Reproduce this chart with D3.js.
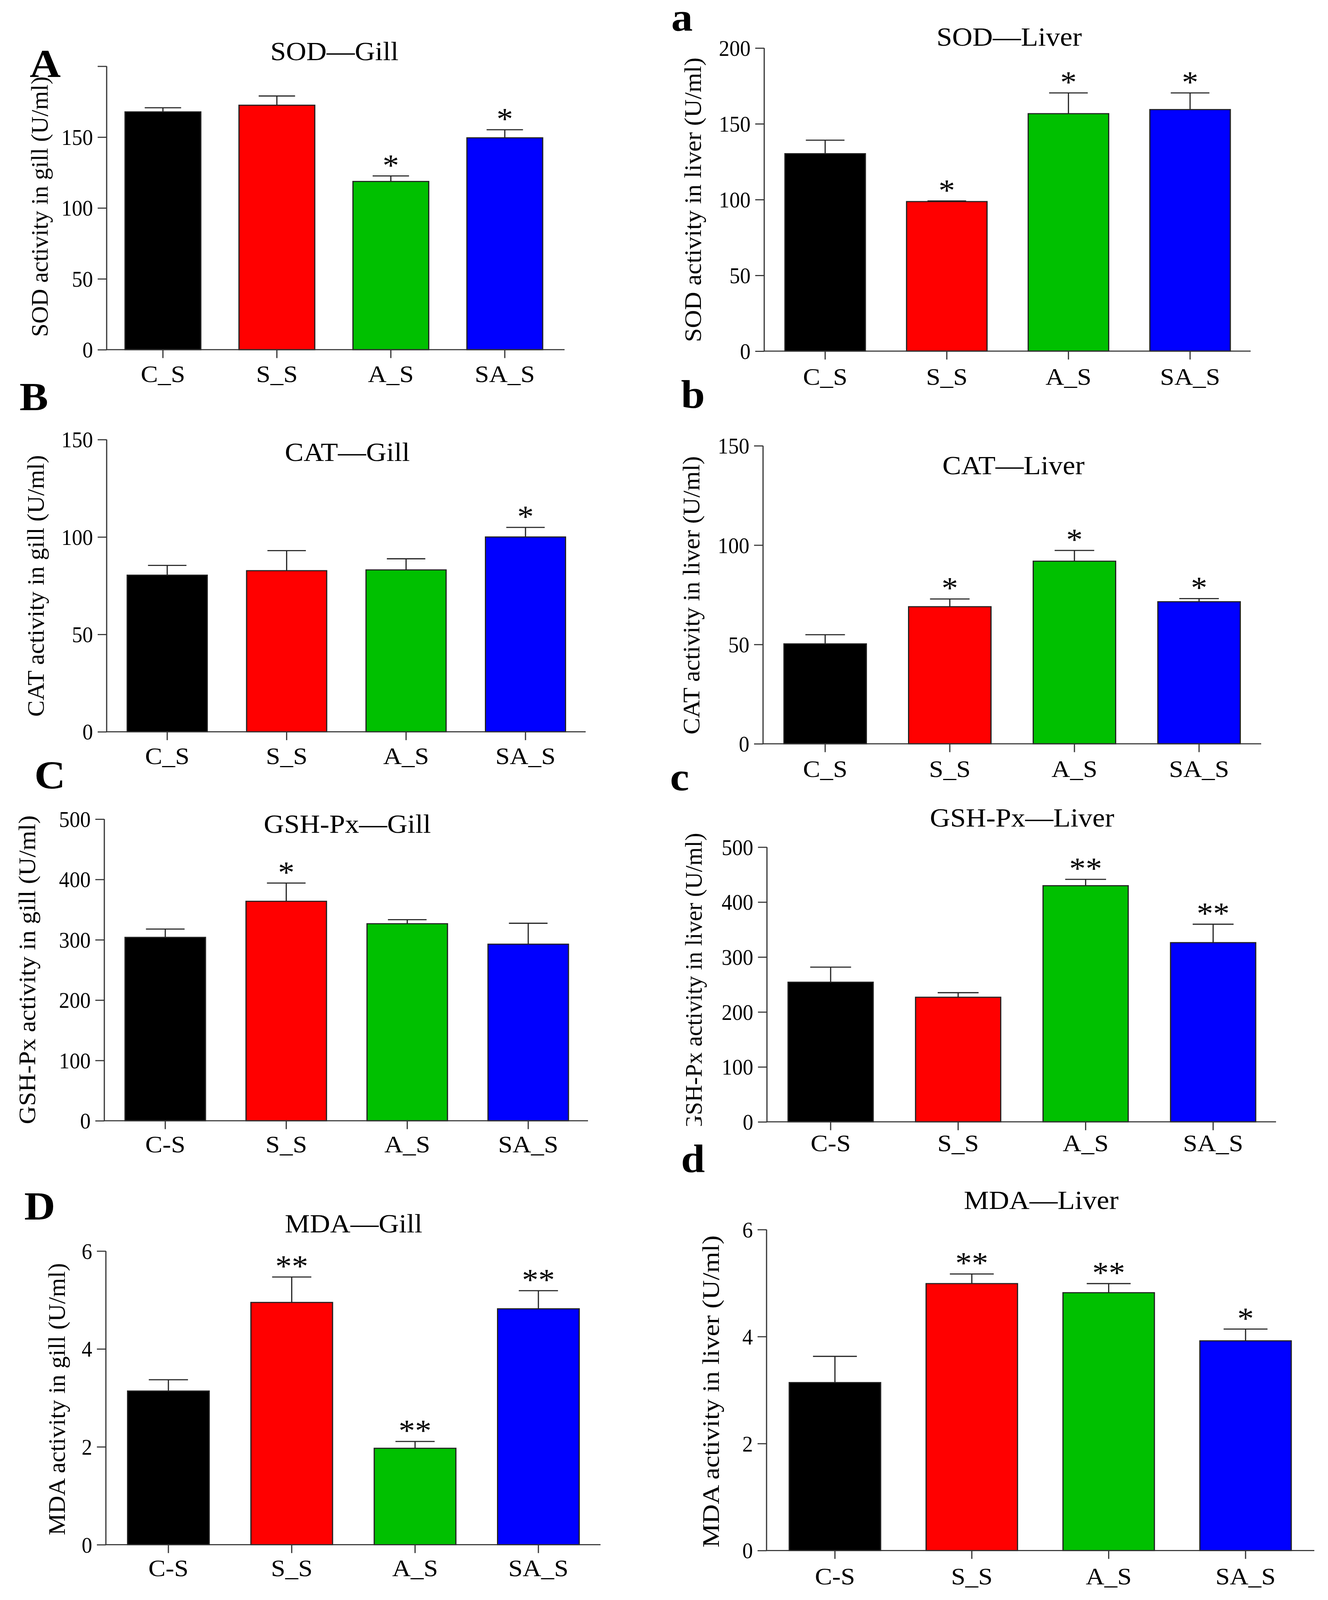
<html>
<head>
<style>
html, body { margin: 0; padding: 0; background: #fff; overflow: hidden; }
#svg { display: block; width: 100vw; height: 100vh; }
text { font-family: "Liberation Serif", "Times New Roman", serif; fill: #000; }
</style>
</head>
<body>
<svg id="svg" viewBox="0 0 3399 4397" preserveAspectRatio="none"></svg>
<script src="https://d3js.org/d3.v7.min.js"></script>
<script>

// groups and colours
var groups = ["C_S", "S_S", "A_S", "SA_S"];
var barColors = ["#000000", "#ff0000", "#00c000", "#0000ff"];
var namesU = ["C_S", "S_S", "A_S", "SA_S"];
var namesD = ["C-S", "S_S", "A_S", "SA_S"];

// SOD
var sodGill = [167.8, 172.5, 118.7, 149.5];
var sodGillErr = [2.9, 6.5, 3.9, 5.7];
var sodGillSig = ["", "", "*", "*"];
var sodLiver = [130.3, 98.7, 156.7, 159.4];
var sodLiverErr = [8.9, 0.4, 13.7, 11.0];
var sodLiverSig = ["", "*", "*", "*"];
var sodTicks = [0, 50, 100, 150, 200];
var sodGillTickLabels = ["0", "50", "100", "150", ""];
var sodLiverTickLabels = ["0", "50", "100", "150", "200"];

// CAT
var catGill = [80.4, 82.7, 83.1, 100.0];
var catGillErr = [5.0, 10.3, 5.7, 4.9];
var catGillSig = ["", "", "", "*"];
var catLiver = [50.3, 69.0, 91.9, 71.5];
var catLiverErr = [4.6, 3.9, 5.4, 1.6];
var catLiverSig = ["", "*", "*", "*"];
var catTicks = [0, 50, 100, 150];
var catTickLabels = ["0", "50", "100", "150"];

// GSH-Px
var gshGill = [304.0, 363.8, 326.6, 292.7];
var gshGillErr = [13.7, 30.2, 6.7, 34.7];
var gshGillSig = ["", "*", "", ""];
var gshLiver = [254.2, 226.8, 429.8, 326.2];
var gshLiverErr = [27.4, 8.3, 11.6, 33.5];
var gshLiverSig = ["", "", "**", "**"];
var gshTicks = [0, 100, 200, 300, 400, 500];
var gshTickLabels = ["0", "100", "200", "300", "400", "500"];

// MDA
var mdaGill = [3.14, 4.95, 1.97, 4.82];
var mdaGillErr = [0.23, 0.52, 0.14, 0.37];
var mdaGillSig = ["", "**", "**", "**"];
var mdaLiver = [3.14, 4.99, 4.82, 3.92];
var mdaLiverErr = [0.49, 0.18, 0.17, 0.22];
var mdaLiverSig = ["", "**", "**", "*"];
var mdaTicks = [0, 2, 4, 6];
var mdaTickLabels = ["0", "2", "4", "6"];

// panel table: data refs + layout (ax/xe axis ends, y0/yt zero & top, c0/c3 first/last centre, bw bar width,
// tx/ty title, lx/ly panel letter, yx/yy/yl y label centre & length, xb x label baseline, clip = y label cut)
var panels = [
  {tag:"A", title:"SOD\u2014Gill", ylab:"SOD activity in gill (U/ml)", m:sodGill, e:sodGillErr, s:sodGillSig, t:sodTicks, tl:sodGillTickLabels, names:namesU,
   ax:273, xe:1445, y0:961, yt:182, c0:417, c3:1292, bw:194, tx:856, ty:165, lx:76, ly:212, yx:100, yy:568, yl:716, xb:1050},
  {tag:"a", title:"SOD\u2014Liver", ylab:"SOD activity in liver (U/ml)", m:sodLiver, e:sodLiverErr, s:sodLiverSig, t:sodTicks, tl:sodLiverTickLabels, names:namesU,
   ax:1956, xe:3201, y0:965, yt:132, c0:2112, c3:3046, bw:206, tx:2583, ty:126, lx:1718, ly:84, yx:1772, yy:549, yl:782, xb:1057},
  {tag:"B", title:"CAT\u2014Gill", ylab:"CAT activity in gill (U/ml)", m:catGill, e:catGillErr, s:catGillSig, t:catTicks, tl:catTickLabels, names:namesU,
   ax:273, xe:1499, y0:2011, yt:1208, c0:428, c3:1345, bw:205, tx:889, ty:1267, lx:50, ly:1127, yx:90, yy:1610, yl:719, xb:2100},
  {tag:"b", title:"CAT\u2014Liver", ylab:"CAT activity in liver (U/ml)", m:catLiver, e:catLiverErr, s:catLiverSig, t:catTicks, tl:catTickLabels, names:namesU,
   ax:1953, xe:3228, y0:2044, yt:1225, c0:2112, c3:3069, bw:211, tx:2594, ty:1303, lx:1743, ly:1121, yx:1768, yy:1636, yl:765, xb:2135},
  {tag:"C", title:"GSH-Px\u2014Gill", ylab:"GSH-Px activity in gill (U/ml)", m:gshGill, e:gshGillErr, s:gshGillSig, t:gshTicks, tl:gshTickLabels, names:namesD,
   ax:267, xe:1505, y0:3080, yt:2251, c0:423, c3:1352, bw:206, tx:889, ty:2289, lx:88, ly:2167, yx:68, yy:2665, yl:849, xb:3167},
  {tag:"c", title:"GSH-Px\u2014Liver", ylab:"GSH-Px activity in liver (U/ml)", m:gshLiver, e:gshLiverErr, s:gshLiverSig, t:gshTicks, tl:gshTickLabels, names:namesD,
   ax:1963, xe:3266, y0:3083, yt:2328, c0:2126, c3:3105, bw:218, tx:2616, ty:2272, lx:1715, ly:2172, yx:1774, yy:2700, yl:822, xb:3164, clip:3094},
  {tag:"D", title:"MDA\u2014Gill", ylab:"MDA activity in gill (U/ml)", m:mdaGill, e:mdaGillErr, s:mdaGillSig, t:mdaTicks, tl:mdaTickLabels, names:namesD,
   ax:271, xe:1537, y0:4245, yt:3438, c0:431, c3:1378, bw:209, tx:905, ty:3387, lx:62, ly:3351, yx:144, yy:3845, yl:748, xb:4331},
  {tag:"d", title:"MDA\u2014Liver", ylab:"MDA activity in liver (U/ml)", m:mdaLiver, e:mdaLiverErr, s:mdaLiverSig, t:mdaTicks, tl:mdaTickLabels, names:namesD,
   ax:1962, xe:3364, y0:4261, yt:3379, c0:2137, c3:3188, bw:234, tx:2665, ty:3322, lx:1743, ly:3222, yx:1818, yy:3824, yl:858, xb:4354}
];

var svg = d3.select("#svg");
var defs = svg.append("defs");

function drawPanel(p, pi) {
  var g = svg.append("g").attr("class", "panel");
  var step = (p.c3 - p.c0) / 3;
  var pin = 1 - p.bw / step;
  var x = d3.scaleBand().domain(groups).range([p.c0 - step/2, p.c3 + step/2])
    .paddingInner(pin).paddingOuter(pin/2);
  var y = d3.scaleLinear().domain([0, d3.max(p.t)]).range([p.y0, p.yt]);

  var rows = groups.map((k, i) => ({k: k, m: p.m[i], e: p.e[i], s: p.s[i], c: barColors[i]}));

  g.selectAll("rect.bar").data(rows).join("rect").attr("class", "bar")
    .attr("x", d => x(d.k)).attr("width", x.bandwidth())
    .attr("y", d => y(d.m)).attr("height", d => y(0) - y(d.m))
    .style("fill", d => d.c).style("stroke", "#222").style("stroke-width", 3);

  var cw = x.bandwidth() * 0.48;
  var eb = g.selectAll("g.err").data(rows).join("g").attr("class", "err")
    .style("stroke", "#222").style("stroke-width", 3);
  eb.append("line")
    .attr("x1", d => x(d.k) + x.bandwidth()/2).attr("x2", d => x(d.k) + x.bandwidth()/2)
    .attr("y1", d => y(d.m)).attr("y2", d => y(d.m + d.e));
  eb.append("line")
    .attr("x1", d => x(d.k) + x.bandwidth()/2 - cw/2).attr("x2", d => x(d.k) + x.bandwidth()/2 + cw/2)
    .attr("y1", d => y(d.m + d.e)).attr("y2", d => y(d.m + d.e));

  g.selectAll("text.sig").data(rows).join("text").attr("class", "sig")
    .attr("x", d => x(d.k) + x.bandwidth()/2).attr("y", d => y(d.m + d.e) - 2)
    .attr("text-anchor", "middle").style("font-size", "84px")
    .text(d => d.s);

  // y axis
  var ya = g.append("g").attr("transform", "translate(" + p.ax + ",0)")
    .call(d3.axisLeft(y).tickValues(p.t).tickFormat((d, i) => p.tl[i]).tickSize(23).tickPadding(12).tickSizeOuter(0));
  ya.select(".domain").remove();
  ya.selectAll("line").style("stroke", "#333").style("stroke-width", 3);
  ya.selectAll("text").style("font-size", "62px").attr("dy", "0.34em")
    .style("font-family", "'Liberation Serif', serif")
    .attr("textLength", function() { return this.textContent.length * 27; })
    .attr("lengthAdjust", "spacingAndGlyphs");
  g.append("line").attr("x1", p.ax).attr("x2", p.ax).attr("y1", y(0)).attr("y2", p.yt)
    .style("stroke", "#333").style("stroke-width", 3);

  // x axis
  var xa = g.append("g").attr("transform", "translate(0," + p.y0 + ")")
    .call(d3.axisBottom(x).tickFormat((d, i) => p.names[i]).tickSize(23).tickSizeOuter(0));
  xa.select(".domain").remove();
  xa.selectAll("line").style("stroke", "#333").style("stroke-width", 3);
  xa.selectAll("text").attr("y", p.xb - p.y0).attr("dy", 0).style("font-size", "66px")
    .style("font-family", "'Liberation Serif', serif");
  g.append("line").attr("x1", p.ax).attr("x2", p.xe).attr("y1", p.y0).attr("y2", p.y0)
    .style("stroke", "#333").style("stroke-width", 3);

  // texts
  g.append("text").attr("x", p.tx).attr("y", p.ty).attr("text-anchor", "middle")
    .style("font-size", "72px").text(p.title);
  g.append("text").attr("x", p.lx).attr("y", p.ly)
    .style("font-size", "110px").style("font-weight", "bold").text(p.tag);
  var lg = g.append("g");
  lg.append("text").attr("transform", "translate(" + p.yx + "," + p.yy + ") rotate(-90)")
    .attr("text-anchor", "middle").attr("dy", "0.35em")
    .attr("textLength", p.yl).attr("lengthAdjust", "spacingAndGlyphs")
    .style("font-size", "62px").text(p.ylab);
  if (p.clip) {
    // label in panel c is cut at the bottom in the source figure
    defs.append("clipPath").attr("id", "yclip" + pi)
      .append("rect").attr("x", p.yx - 100).attr("y", p.yy - p.yl).attr("width", 200).attr("height", p.clip - p.yy + p.yl);
    lg.attr("clip-path", "url(#yclip" + pi + ")");
  }
}

panels.forEach(drawPanel);

</script>
</body>
</html>
